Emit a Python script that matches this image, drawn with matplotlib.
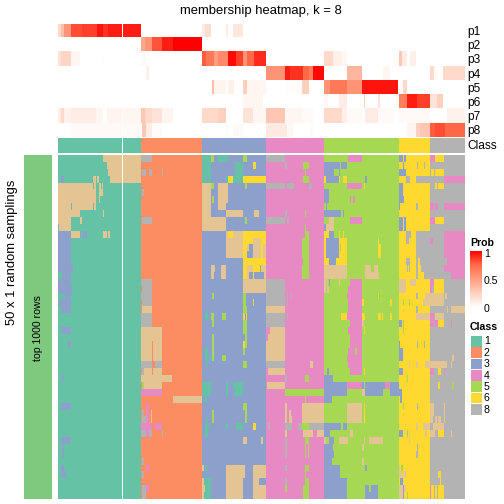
import numpy as np
import matplotlib
matplotlib.use("Agg")
import matplotlib.pyplot as plt
from matplotlib.colors import ListedColormap, LinearSegmentedColormap
from matplotlib.patches import Rectangle

plt.rcParams['font.family'] = ['Liberation Sans', 'DejaVu Sans']

N_COL = 407
N_ROW = 50
GAP_COL = 64
P_NAMES = ["p1", "p2", "p3", "p4", "p5", "p6", "p7", "p8"]
LEGEND_CLASSES = ["1", "2", "3", "4", "5", "6", "8"]
PROB_TICKS = [1, 0.5, 0]
CLASS_COLORS = ["#66C2A5", "#FC8D62", "#8DA0CB", "#E78AC3", "#A6D854", "#FFD92F",
                "#E5C494", "#B3B3B3"]
# predicted class of each column group: class, first column, end column
CLASS_GROUPS = [(1, 0, 83), (2, 83, 144), (3, 144, 208), (4, 208, 266),
                (5, 266, 341), (6, 341, 372), (8, 372, 407)]

# membership probability, "start-end:value" along the columns
P1 = "0-3:.2 3-6:.35 6-13:.55 13-24:.82 24-39:.85 39-45:.95 45-50:.88 50-83:.93 144-147:.1 147-153:.18 168-170:.1 175-185:.13"
P2 = "83-87:.45 87-94:.55 94-104:.8 104-115:.93 115-144:1"
P3 = "0-3:.15 3-13:.22 13-22:.05 45-46:.02 83-88:.02 144-148:.78 148-156:.68 156-160:.5 160-170:.6 170-178:.97 178-185:.85 185-189:.55 189-196:.75 196-208:.9 266-275:.2 275-284:.08 284-289:.04 341-344:.3 344-349:.1 352-358:.08"
P4 = "88-91:.08 208-227:.55 227-232:.93 232-245:.88 245-251:.75 251-255:.65 255-266:.98 289-304:.38 325-332:.05 372-376:.2 376-380:.03 385-387:.2 387-407:.2"
P5 = "154-156:.35 156-168:.06 170-176:.08 185-189:.25 189-208:.05 228-244:.01 244-251:.25 266-272:.55 272-289:.68 289-304:.55 304-340:.95 341-345:.03 345-349:.2"
P6 = "185-205:.05 266-270:.04 281-289:.1 306-307:.25 320-322:.15 341-349:.65 349-359:.93 359-372:.85 372-379:.15 379-385:.25"
P7 = "0-3:.1 3-6:.2 6-13:.07 13-38:.1 38-45:.05 49-64:.06 64-83:.05 83-87:.3 87-94:.2 94-104:.15 104-115:.06 144-160:.2 160-168:.25 185-195:.15 195-208:.05 208-227:.3 228-244:.05 244-255:.03 266-284:.2 284-289:.08 289-304:.03 307-320:.1 320-336:.03 341-372:.03 389-407:.07"
P8 = "13-64:.025 64-83:.03 84-88:.3 88-94:.1 94-104:.02 168-170:.02 175-185:.03 208-229:.12 229-235:.04 252-255:.02 349-358:.06 358-362:.25 362-372:.3 372-377:.78 377-387:.82 387-407:.75"
P_ROWS = [P1, P2, P3, P4, P5, P6, P7, P8]

# per sampling row: parts of the group with another class, "class:start-end"
GROUP1 = ["7:45-83", "7:49-83", "7:50-83", "3:3-6 7:35-38 7:39-41 7:52-83",
          "7:0-35 7:36-38 7:41-43 7:44-45", "7:0-38 7:41-45", "7:0-38 7:41-42",
          "7:0-13 7:14-35 7:36-38", "7:0-22 7:45-46", "7:0-13 7:22-24", "7:1-13",
          "3:0-13 7:13-22 3:22-23 3:25-29 7:45-49 7:50-52",
          "3:0-13", "3:0-13", "3:0-13", "3:0-13", "3:0-15", "3:4-13", "3:0-13", "3:0-14",
          "3:4-5 3:7-13", "3:1-13", "3:3-13", "", "", "3:3-13", "", "3:10-13", "", "", "",
          "", "3:4-6", "", "", "", "3:3-13", "", "", "", "", "3:3-13", "3:4-6", "3:4-6", "",
          "3:3-6", "3:3-8", "", "", ""]
GROUP2 = ["8:83-94", "", "8:84-88 8:91-94 8:104-105", "", "", "8:84-86", "", "", "",
          "8:84-94", "", "", "", "", "", "", "", "", "8:83-94", "8:84-94", "8:83-94",
          "8:84-94", "7:84-94", "8:83-94", "8:83-94", "7:83-104", "7:83-104",
          "7:83-94 7:95-104", "7:83-94 7:95-104", "7:83-94 7:95-104",
          "8:83-94 8:97-104", "8:84-86 7:86-94 7:95-104", "7:83-114",
          "5:84-86 7:86-104", "4:83-104", "7:115-144", "4:88-91",
          "8:84-86 4:88-91 7:93-94", "8:84-88 4:88-91 7:93-94",
          "4:83-94 4:97-104", "8:83-88 4:88-91 8:91-94 8:104-105", "", "", "", "8:84-86",
          "4:88-91", "8:84-86", "", "8:84-88 4:88-91", "8:84-88"]
GROUP3 = ["1:144-153 5:153-156 1:160-170 5:185-189",
          "1:144-153 1:177-185 6:195-198", "1:144-153 1:177-185",
          "1:144-149 1:150-153 1:168-170 6:170-175 1:175-185 6:185-208",
          "7:144-153 5:153-156 7:160-170 5:187-189", "7:144-153 7:160-170",
          "7:144-153 5:154-156 7:160-170", "7:144-153 7:160-168",
          "7:144-153 7:168-185 7:196-201", "7:144-168 5:187-189", "7:144-168",
          "7:168-170 6:170-175 7:175-185 6:185-208", "7:168-185 6:185-195 7:195-203 6:203-208",
          "7:168-185 6:185-189 7:189-191 7:195-203 6:203-205 7:205-208",
          "7:168-185 6:185-189 7:195-203 6:203-205 7:205-208", "6:185-208",
          "7:153-157 7:163-168 6:185-189 7:189-195 6:195-202 3:202-203 6:203-204 7:204-208",
          "7:153-156 7:163-168 6:185-189 7:189-191 6:195-196 7:206-208",
          "7:185-208", "7:185-208", "5:154-156 5:185-188", "5:185-188 6:195-196",
          "5:185-189", "1:147-150 5:153-156 5:164-168 6:185-187 6:188-189", "5:154-156 5:185-189",
          "5:185-189", "5:154-156 5:187-189", "5:154-156 6:185-187 5:187-189",
          "1:147-150 5:154-156 5:185-187", "1:147-150 1:151-153 5:154-156 5:164-168",
          "1:149-150 5:185-189", "", "", "1:144-153 1:168-170 1:175-185",
          "1:144-153 1:168-170 1:177-185", "1:147-149", "5:185-189", "5:154-156 5:187-189",
          "1:149-150 5:154-156 5:187-189", "1:147-151 1:168-170 1:178-185 6:195-198",
          "1:147-150", "7:185-189 7:203-205", "", "", "",
          "7:144-146 1:147-149 7:168-187 7:195-208", "7:168-187 7:195-208",
          "7:144-146 1:146-153 7:168-185 7:195-201", "7:144-147 1:147-153 7:168-185 7:195-208",
          "7:144-146 1:146-153 7:168-185 7:195-208"]
GROUP4 = ["8:208-227", "8:227-229 5:245-251", "5:247-248", "5:245-251",
          "8:208-227 8:229-236 8:251-254", "", "", "", "8:227-229 5:247-248",
          "8:208-227 8:229-231", "5:247-248", "5:247-251", "5:244-251", "5:244-251",
          "5:244-251", "5:245-251", "5:244-251", "5:244-251", "8:208-227", "8:208-227",
          "8:208-227 8:229-230 8:233-234", "8:208-227 8:229-230", "7:208-227",
          "8:208-227 8:229-230", "8:208-227", "7:212-227", "7:210-227", "7:208-227",
          "7:208-227", "7:208-227", "8:208-227 7:252-255", "7:210-227",
          "8:227-229 5:247-251", "7:209-227", "5:227-266", "5:247-248", "7:227-229 7:244-266",
          "7:227-229 7:231-233 7:244-266", "7:227-229 7:231-234 7:244-266",
          "8:210-212 8:227-234 8:240-244 5:244-251 8:251-266",
          "7:227-229 7:245-255 7:259-266", "8:227-229 5:247-251",
          "8:227-229 5:247-248 5:250-251", "8:227-229 5:247-248 5:250-251", "",
          "8:227-229 5:247-251", "5:247-248", "8:227-229 5:247-251", "5:227-229 5:245-251",
          "5:245-251"]
GROUP5 = ["4:290-304", "3:266-282 3:283-289", "3:266-276 3:281-282",
          "6:266-268 3:268-281 6:281-282 6:285-289 3:307-309",
          "4:289-304 6:306-307", "3:266-271", "3:266-271 4:292-293 4:295-297", "3:268-269",
          "3:266-283 3:285-286", "7:271-276 4:292-304", "3:266-268 7:268-276",
          "6:266-271 3:271-276 6:281-282 6:285-286",
          "6:266-268 3:268-281 6:281-289 6:320-321", "6:266-268 3:268-281 6:281-282 6:283-289 6:320-323",
          "6:266-268 3:268-281 6:281-289 6:320-323", "6:266-271 3:271-278 6:278-289",
          "7:266-289 7:307-313 7:316-320", "7:266-289 7:307-321",
          "7:266-268 7:269-270 3:271-272 7:281-282 4:292-304",
          "7:266-268 7:269-271 4:290-304 5:306-307", "4:289-304 6:320-321",
          "4:290-304 6:304-306 6:332-334", "4:290-304",
          "6:283-289 4:289-304 6:304-307 6:320-323 6:324-325 6:332-334", "4:292-304 7:304-306",
          "4:290-304 6:306-307", "4:292-304", "4:292-304",
          "4:290-304 5:297-299", "4:289-304", "4:290-304",
          "3:269-271 4:292-304 6:306-307", "3:266-275",
          "3:266-289 4:289-304 3:304-306 3:307-327 4:327-332 3:332-341",
          "3:266-289 7:304-307 3:307-325 3:332-341", "3:266-274",
          "7:289-304 6:306-307", "7:289-304 6:306-307", "7:289-304 6:306-307",
          "3:266-283 3:285-289", "3:266-272 7:292-295",
          "7:266-268 3:271-276 7:281-290 7:306-307 7:311-325", "3:266-275 7:304-306",
          "3:266-276", "3:266-274 7:304-306", "3:266-282 3:307-309", "3:266-282",
          "3:266-289", "3:266-289 3:307-311 3:313-320", "3:266-289 3:307-320"]
GROUP6 = ["3:341-345 3:346-348", "3:345-346 8:359-360 8:366-367", "3:341-348",
          "8:348-352 8:358-372", "3:341-345", "3:341-345", "3:341-346", "3:341-342 8:358-360",
          "", "3:341-345 3:346-348", "3:341-345 3:346-348", "8:348-353 8:358-372",
          "8:348-351 8:358-372", "8:358-372", "8:358-372",
          "8:348-352 8:358-360 8:362-372", "8:349-350 8:351-352 8:358-360 8:363-372",
          "8:358-360 8:366-372", "7:341-348 7:352-358", "7:341-348",
          "8:358-360 7:367-372", "5:345-346 5:351-352 7:365-372", "8:358-360", "7:358-372",
          "3:341-344 5:345-346", "5:345-346", "", "3:341-342 8:359-360 8:366-367",
          "3:341-345", "3:341-345", "7:351-352 7:358-360 7:367-372", "3:341-345", "5:349-350",
          "", "3:341-344", "3:342-344", "5:345-346 8:359-360", "", "",
          "7:358-360 7:365-372", "3:341-345 5:349-350 7:351-352 7:367-369", "7:351-352",
          "8:359-360", "8:358-360", "", "7:341-342 5:343-345", "7:341-345 7:346-348",
          "3:342-345", "7:341-345 3:345-346 7:346-348", "7:341-345 3:345-346 5:349-350"]
GROUP7 = ["4:372-377 6:377-386", "", "6:373-376 6:377-386", "4:386-407",
          "6:377-379 6:380-386", "", "", "4:372-376 4:377-380 4:386-407", "",
          "4:372-377 6:377-386", "", "4:386-407", "4:372-375 4:386-407", "4:386-407", "4:386-407",
          "4:389-407", "4:386-407", "4:393-407", "4:372-376 6:376-386", "4:372-374 6:376-386",
          "7:372-386 7:387-389", "7:372-386", "7:389-390 7:393-407", "4:372-376 7:377-386",
          "4:372-376 4:377-380 6:380-386 4:393-394", "", "", "", "", "7:394-396",
          "7:372-389 7:393-394", "4:372-376 6:380-383 4:386-387", "", "6:380-382 5:394-396",
          "", "", "7:372-376 7:386-387", "7:372-376 7:386-387",
          "7:372-375 7:377-379 7:380-383 7:386-387", "7:375-386",
          "7:372-376 7:376-377 6:380-386 7:393-394", "", "", "", "", "", "6:380-383", "6:382-383",
          "4:372-373 6:373-376 6:377-379 6:380-386", "4:372-373 6:373-376 6:377-379 6:380-386"]
GROUPS = [GROUP1, GROUP2, GROUP3, GROUP4, GROUP5, GROUP6, GROUP7]


def class_matrix():
    """ builds the rows x columns class matrix from the group lists """
    mat = np.zeros((N_ROW, N_COL))
    for (base, start, end), rows in zip(CLASS_GROUPS, GROUPS):
        mat[:, start:end] = base
        for i, row in enumerate(rows):
            for token in row.split():
                cls, span = token.split(":")
                a, b = span.split("-")
                mat[i, int(a):int(b)] = int(cls)
    mat[:, GAP_COL] = np.nan
    return mat


def prob_matrix():
    mat = np.zeros((len(P_ROWS), N_COL))
    for i, row in enumerate(P_ROWS):
        for token in row.split():
            span, val = token.split(":")
            a, b = span.split("-")
            mat[i, int(a):int(b)] = float(val)
    mat[:, GAP_COL] = np.nan
    return mat


def px_axes(fig, left, top, right, bottom):
    """ axes from pixel edges, with y going down the image """
    W, H = 504.0, 504.0
    ax = fig.add_axes([left / W, 1 - bottom / H, (right - left) / W, (bottom - top) / H])
    ax.axis("off")
    return ax


class_cmap = ListedColormap(CLASS_COLORS)
class_cmap.set_bad("white")
prob_cmap = LinearSegmentedColormap.from_list(
    "prob", ["#FFFFFF", "#FFD1BF", "#FF9E81", "#FF6A48", "#FF0000"])
prob_cmap.set_bad("white")
class_args = dict(cmap=class_cmap, vmin=0.5, vmax=8.5, aspect="auto", interpolation="nearest")

fig = plt.figure(figsize=(5.04, 5.04), dpi=100)

ax_top = px_axes(fig, 58, 24, 465, 137.5)
ax_top.imshow(prob_matrix(), cmap=prob_cmap, vmin=0, vmax=1, aspect="auto",
              interpolation="nearest")

class_row = np.zeros((1, N_COL))
for base, start, end in CLASS_GROUPS:
    class_row[0, start:end] = base
class_row[0, GAP_COL] = np.nan
ax_class = px_axes(fig, 58, 138, 465, 153)
ax_class.imshow(class_row, **class_args)

ax_main = px_axes(fig, 58, 155, 465, 499)
ax_main.imshow(class_matrix(), **class_args)

# overlay in pixel coordinates for the labels and legends
ax = px_axes(fig, 0, 0, 504, 504)
ax.set_xlim(0, 504)
ax.set_ylim(504, 0)
ax.patch.set_alpha(0)
ax.add_patch(Rectangle((24, 155), 28, 344, color="#7FC97F", lw=0))
ax.text(261, 11, "membership heatmap, k = 8", ha="center", va="center", fontsize=9.4)
ax.text(12, 252, "50 x 1 random samplings", rotation=90, ha="center", va="center", fontsize=9.4)
ax.text(38, 328, "top 1000 rows", rotation=90, ha="center", va="center", fontsize=7.6)
for i, name in enumerate(P_NAMES):
    ax.text(467.5, 32 + 14.2 * i, name, ha="left", va="center", fontsize=8.6)
ax.text(467.5, 146, "Class", ha="left", va="center", fontsize=8.6)

# probability colour bar
ax.text(470, 243, "Prob", ha="left", va="center", fontsize=7.6, fontweight="bold")
ax_bar = px_axes(fig, 470, 251, 482, 308)
ax_bar.imshow(np.linspace(1, 0, 57)[:, None], cmap=prob_cmap, vmin=0, vmax=1, aspect="auto")
for tick in PROB_TICKS:
    y_tick = 308.5 - tick * 55
    ax.plot([470, 472.5], [y_tick, y_tick], color="white", lw=0.6)
    ax.plot([479.5, 482], [y_tick, y_tick], color="white", lw=0.6)
    ax.text(484, y_tick + (0.5 if tick else 0), "%g" % tick, ha="left", va="center", fontsize=7.6)

# class legend
ax.text(470, 327, "Class", ha="left", va="center", fontsize=7.6, fontweight="bold")
for i, name in enumerate(LEGEND_CLASSES):
    y0 = 336 + 11.35 * i
    ax.add_patch(Rectangle((470.5, y0), 11, 10.5, color=CLASS_COLORS[int(name) - 1], lw=0))
    ax.text(484, y0 + 5.5, name, ha="left", va="center", fontsize=7.6)

fig.savefig("out.png", dpi=100)
